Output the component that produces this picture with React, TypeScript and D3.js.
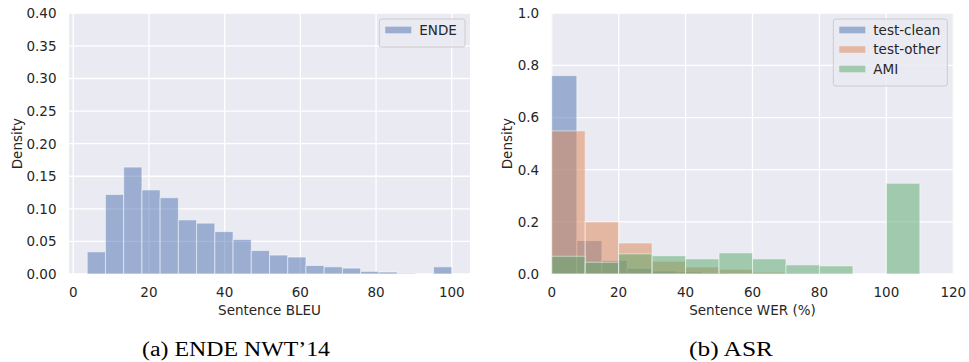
import React from "react";
import * as d3 from "d3";

// ---------- Data ----------
// Left panel: sentence BLEU histogram (ENDE NWT'14)
const bleuBinStart = 3.7;
const bleuBinWidth = 4.815;
const bleuDensity = [
  0.034, 0.122, 0.164, 0.129, 0.117, 0.083, 0.078, 0.065, 0.053, 0.036,
  0.029, 0.026, 0.013, 0.011, 0.009, 0.004, 0.003, 0.001, 0.0, 0.011,
];
const bleuXTicks = [0, 20, 40, 60, 80, 100];
const bleuYTicks = [0, 0.05, 0.1, 0.15, 0.2, 0.25, 0.3, 0.35, 0.4];

// Right panel: sentence WER histograms (ASR)
const cleanBinWidth = 7.5;
const cleanDensity = [0.761, 0.128, 0.052, 0.021, 0.011, 0.008, 0.004, 0.002, 0.001, 0.001];
const otherBinWidth = 10;
const otherDensity = [0.549, 0.2, 0.119, 0.049, 0.027, 0.018, 0.007, 0.002];
const amiBinWidth = 10;
const amiDensity = [0.068, 0.045, 0.077, 0.07, 0.058, 0.081, 0.058, 0.035, 0.031, 0.0, 0.348];
const werXTicks = [0, 20, 40, 60, 80, 100, 120];
const werYTicks = [0, 0.2, 0.4, 0.6, 0.8, 1.0];

const seriesNames = ["test-clean", "test-other", "AMI"];
const seriesColors = ["#4C72B0", "#DD8452", "#55A868"];
const endeName = "ENDE";

// ---------- Style ----------
const BG = "#EAEAF2";
const TXT = "#262626";
const FONT = "'DejaVu Sans', sans-serif";
const FS = 13.5;

type Panel = {
  left: number;
  right: number;
  top: number;
  bottom: number;
};

const P1: Panel = { left: 69, right: 470, top: 13.3, bottom: 274 };
const P2: Panel = { left: 551.7, right: 953.3, top: 13.3, bottom: 274 };

function Bars({
  x,
  y,
  start,
  width,
  values,
  color,
}: {
  x: d3.ScaleLinear<number, number>;
  y: d3.ScaleLinear<number, number>;
  start: number;
  width: number;
  values: number[];
  color: string;
}) {
  return (
    <g>
      {values.map((v, i) => {
        const x0 = x(start + i * width);
        const x1 = x(start + (i + 1) * width);
        const y0 = y(v);
        const y1 = y(0);
        if (v <= 0) return null;
        return (
          <rect
            key={i}
            x={x0}
            y={y0}
            width={x1 - x0}
            height={y1 - y0}
            fill={color}
            fillOpacity={0.5}
            stroke="#ffffff"
            strokeOpacity={0.5}
            strokeWidth={1}
          />
        );
      })}
    </g>
  );
}

function Axes({
  p,
  x,
  y,
  xTicks,
  yTicks,
  yFmt,
  xLabel,
  yLabelX,
  children,
}: {
  p: Panel;
  x: d3.ScaleLinear<number, number>;
  y: d3.ScaleLinear<number, number>;
  xTicks: number[];
  yTicks: number[];
  yFmt: (v: number) => string;
  xLabel: string;
  yLabelX: number;
  children?: React.ReactNode;
}) {
  const clipId = `clip-${Math.round(p.left)}`;
  return (
    <g>
      <defs>
        <clipPath id={clipId}>
          <rect x={p.left} y={p.top} width={p.right - p.left} height={p.bottom - p.top} />
        </clipPath>
      </defs>
      <rect x={p.left} y={p.top} width={p.right - p.left} height={p.bottom - p.top} fill={BG} />
      <g clipPath={`url(#${clipId})`}>
        {yTicks.map((t) => (
          <line key={"gy" + t} x1={p.left} x2={p.right} y1={y(t)} y2={y(t)} stroke="#fff" strokeWidth={1.3} />
        ))}
        {xTicks.map((t) => (
          <line key={"gx" + t} x1={x(t)} x2={x(t)} y1={p.top} y2={p.bottom} stroke="#fff" strokeWidth={1.3} />
        ))}
      </g>
      <g clipPath={`url(#${clipId})`}>{children}</g>
      {yTicks.map((t) => (
        <text
          key={"ty" + t}
          x={p.left - 12.5}
          y={y(t)}
          dy="0.36em"
          textAnchor="end"
          fontFamily={FONT}
          fontSize={FS}
          fill={TXT}
        >
          {yFmt(t)}
        </text>
      ))}
      {xTicks.map((t) => (
        <text
          key={"tx" + t}
          x={x(t)}
          y={296.5}
          textAnchor="middle"
          fontFamily={FONT}
          fontSize={FS}
          fill={TXT}
        >
          {String(t)}
        </text>
      ))}
      <text
        x={(p.left + p.right) / 2}
        y={315}
        textAnchor="middle"
        fontFamily={FONT}
        fontSize={FS}
        fill={TXT}
      >
        {xLabel}
      </text>
      <text
        transform={`translate(${yLabelX},${(p.top + p.bottom) / 2}) rotate(-90)`}
        textAnchor="middle"
        fontFamily={FONT}
        fontSize={FS}
        fill={TXT}
      >
        Density
      </text>
    </g>
  );
}

function Legend({
  x,
  y,
  w,
  names,
  colors,
}: {
  x: number;
  y: number;
  w: number;
  names: string[];
  colors: string[];
}) {
  const rowH = 19.5;
  const h = 11 + names.length * rowH - 7 + 0.5;
  return (
    <g>
      <rect
        x={x}
        y={y}
        width={w}
        height={h + 4}
        rx={2.5}
        fill={BG}
        fillOpacity={0.8}
        stroke="#cccccc"
        strokeWidth={1}
      />
      {names.map((n, i) => {
        const cy = y + 11 + i * rowH;
        return (
          <g key={n}>
            <rect x={x + 6} y={cy - 3.3} width={26} height={6.6} fill={colors[i]} fillOpacity={0.5} />
            <text x={x + 40} y={cy} dy="0.36em" fontFamily={FONT} fontSize={FS} fill={TXT}>
              {n}
            </text>
          </g>
        );
      })}
    </g>
  );
}

export default function App() {
  const x1 = d3.scaleLinear().domain([-1.115, 104.815]).range([P1.left, P1.right]);
  const y1 = d3.scaleLinear().domain([0, 0.4]).range([P1.bottom, P1.top]);
  const x2 = d3.scaleLinear().domain([0, 120]).range([P2.left, P2.right]);
  const y2 = d3.scaleLinear().domain([0, 1.0]).range([P2.bottom, P2.top]);

  const fmt2 = d3.format(".2f");
  const fmt1 = d3.format(".1f");

  return (
    <svg
      width={969}
      height={362}
      style={{ position: "absolute", left: 0, top: 0, background: "#fff" }}
    >
      <rect x={0} y={0} width={969} height={362} fill="#fff" />
      <Axes
        p={P1}
        x={x1}
        y={y1}
        xTicks={bleuXTicks}
        yTicks={bleuYTicks}
        yFmt={fmt2}
        xLabel="Sentence BLEU"
        yLabelX={21.5}
      >
        <Bars x={x1} y={y1} start={bleuBinStart} width={bleuBinWidth} values={bleuDensity} color={seriesColors[0]} />
      </Axes>
      <Legend x={379.3} y={19} w={85.7} names={[endeName]} colors={[seriesColors[0]]} />

      <Axes
        p={P2}
        x={x2}
        y={y2}
        xTicks={werXTicks}
        yTicks={werYTicks}
        yFmt={fmt1}
        xLabel="Sentence WER (%)"
        yLabelX={512.3}
      >
        <Bars x={x2} y={y2} start={0} width={cleanBinWidth} values={cleanDensity} color={seriesColors[0]} />
        <Bars x={x2} y={y2} start={0} width={otherBinWidth} values={otherDensity} color={seriesColors[1]} />
        <Bars x={x2} y={y2} start={0} width={amiBinWidth} values={amiDensity} color={seriesColors[2]} />
      </Axes>
      <Legend x={833.3} y={19} w={114} names={seriesNames} colors={seriesColors} />

      <text
        x={236}
        y={356}
        textAnchor="middle"
        fontFamily="'Liberation Serif', 'Times New Roman', serif"
        fontSize={20}
        fill="#000"
        textLength={188}
        lengthAdjust="spacingAndGlyphs"
      >
        (a) ENDE NWT’14
      </text>
      <text
        x={731}
        y={356}
        textAnchor="middle"
        fontFamily="'Liberation Serif', 'Times New Roman', serif"
        fontSize={20}
        fill="#000"
        textLength={84}
        lengthAdjust="spacingAndGlyphs"
      >
        (b) ASR
      </text>
    </svg>
  );
}
